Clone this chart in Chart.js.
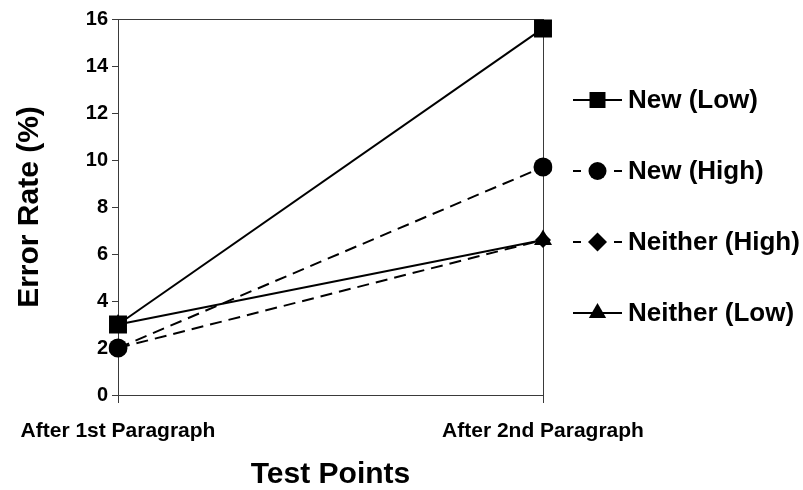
<!DOCTYPE html>
<html>
<head>
<meta charset="utf-8">
<script src="https://cdn.jsdelivr.net/npm/chart.js@4.4.1/dist/chart.umd.min.js"></script>
<style>
    html, body { margin: 0; padding: 0; background: #fff; }
    #wrap { width: 803px; height: 490px; position: relative; }
</style>
</head>
<body>
<div id="wrap"><canvas id="chart"></canvas></div>
<script>
// data
const testPoints = ["After 1st Paragraph", "After 2nd Paragraph"];
const newLow = [3.0, 15.6];
const newHigh = [2.0, 9.7];
const neitherHigh = [2.0, 6.6];
const neitherLow = [3.0, 6.6];
const yTicks = [0, 2, 4, 6, 8, 10, 12, 14, 16];

const FONT = "'Liberation Sans', Arial, sans-serif";
const INK = '#000';
const AXIS = '#3a3a3a';

// draws the legend on the right: line sample with marker, then label
const sideLegend = {
    id: 'sideLegend',
    afterDraw(chart) {
        const ctx = chart.ctx;
        const area = chart.chartArea;
        const x0 = area.right + 30;
        const x1 = x0 + 49;
        const xm = (x0 + x1) / 2;
        const startY = area.top + 81;
        const step = 71;
        ctx.save();
        chart.data.datasets.forEach((ds, i) => {
            const y = startY + i * step;
            ctx.strokeStyle = INK;
            ctx.lineWidth = 2;
            ctx.beginPath();
            if (ds.borderDash && ds.borderDash.length) {
                ctx.moveTo(x0, y); ctx.lineTo(x0 + 8, y);
                ctx.moveTo(x1 - 8, y); ctx.lineTo(x1, y);
            } else {
                ctx.moveTo(x0, y); ctx.lineTo(x1, y);
            }
            ctx.stroke();
            ctx.fillStyle = INK;
            Chart.helpers.drawPoint(ctx, {
                pointStyle: ds.pointStyle,
                radius: ds.legendRadius,
                rotation: 0,
                borderWidth: 0
            }, xm, y);
            ctx.fillStyle = INK;
            ctx.font = 'bold 26px ' + FONT;
            ctx.textBaseline = 'middle';
            ctx.textAlign = 'left';
            ctx.fillText(ds.label, x1 + 6, y + 1);
        });
        ctx.restore();
    }
};

const series = [
    { label: 'New (Low)', data: newLow, dash: [], style: 'rect', r: 12.7, lr: 11.3 },
    { label: 'New (High)', data: newHigh, dash: [12, 7], style: 'circle', r: 9.5, lr: 9 },
    { label: 'Neither (High)', data: neitherHigh, dash: [12, 7], style: 'rectRot', r: 8, lr: 9.5 },
    { label: 'Neither (Low)', data: neitherLow, dash: [], style: 'triangle', r: 10.4, lr: 10 }
];

new Chart(document.getElementById('chart'), {
    type: 'line',
    data: {
        labels: testPoints,
        datasets: series.map(s => ({
            label: s.label,
            data: s.data,
            borderColor: INK,
            backgroundColor: INK,
            borderWidth: 2,
            borderDash: s.dash,
            pointStyle: s.style,
            pointRadius: s.r,
            pointBackgroundColor: INK,
            pointBorderColor: INK,
            pointBorderWidth: 0,
            legendRadius: s.lr,
            tension: 0
        }))
    },
    options: {
        responsive: true,
        maintainAspectRatio: false,
        animation: false,
        layout: { padding: { top: 19, right: 260, bottom: 0, left: 0 } },
        plugins: {
            legend: { display: false },
            tooltip: { enabled: false }
        },
        scales: {
            x: {
                type: 'category',
                offset: false,
                grid: { color: AXIS, lineWidth: 1, tickLength: 8, tickColor: AXIS },
                border: { display: true, color: AXIS, width: 1 },
                ticks: {
                    color: INK,
                    font: { family: FONT, size: 21, weight: 'bold' },
                    padding: 16,
                    maxRotation: 0,
                    autoSkip: false
                },
                title: {
                    display: true,
                    text: 'Test Points',
                    color: INK,
                    font: { family: FONT, size: 30, weight: 'bold', lineHeight: 1.0 },
                    padding: { top: 0, bottom: 0 }
                },
                afterFit(scale) { scale.height = 95; }
            },
            y: {
                min: 0,
                max: 16,
                afterBuildTicks(scale) { scale.ticks = yTicks.map(v => ({ value: v })); },
                grid: {
                    color: c => (c.tick && c.tick.value === 16) ? AXIS : 'rgba(0,0,0,0)',
                    tickColor: AXIS,
                    tickLength: 6,
                    lineWidth: 1
                },
                border: { display: true, color: AXIS, width: 1 },
                ticks: {
                    color: INK,
                    font: { family: FONT, size: 20, weight: 'bold' },
                    padding: 4
                },
                title: {
                    display: true,
                    text: 'Error Rate (%)',
                    color: INK,
                    font: { family: FONT, size: 30, weight: 'bold', lineHeight: 1.0 },
                    padding: { top: 15, bottom: 0 }
                },
                afterFit(scale) { scale.width = 118; }
            }
        }
    },
    plugins: [sideLegend]
});
</script>
</body>
</html>
